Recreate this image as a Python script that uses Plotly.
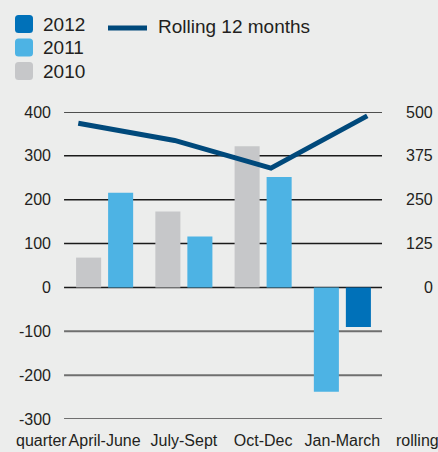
import plotly.graph_objects as go

quarters = ["April-June", "July-Sept", "Oct-Dec", "Jan-March"]
values_2010 = [68, 173, 322]
values_2011 = [216, 116, 252, -238]
values_2012 = [-90]
rolling_12m = [468, 419, 340, 489]
left_ticks = [400, 300, 200, 100, 0, -100, -200, -300]
left_tick_labels = ["400", "300", "200", "100", "0", "-100", "-200", "-300"]
right_ticks = [500, 375, 250, 125, 0]

BG = "#ecedec"
TXT = "#231f20"
C2012 = "#0071b9"
C2011 = "#4db3e4"
C2010 = "#c6c7c9"
CLINE = "#00497b"
FONT = "Liberation Sans, Arial, sans-serif"

W = 0.316
OFF_L = -0.36
OFF_R = 0.044

fig = go.Figure()
fig.add_trace(go.Bar(x=quarters[:3], y=values_2010, width=W, offset=OFF_L,
                     marker=dict(color=C2010, line=dict(width=0)), name="2010"))
fig.add_trace(go.Bar(x=quarters, y=values_2011, width=W,
                     offset=[OFF_R, OFF_R, OFF_R, OFF_L],
                     marker=dict(color=C2011, line=dict(width=0)), name="2011"))
fig.add_trace(go.Bar(x=quarters[3:], y=values_2012, width=W, offset=OFF_R,
                     marker=dict(color=C2012, line=dict(width=0)), name="2012"))
fig.add_trace(go.Scatter(x=quarters, y=rolling_12m, mode="lines",
                         line=dict(color=CLINE, width=5),
                         xaxis="x2", yaxis="y2", name="Rolling 12 months"))

shapes = []
for v in left_ticks:
    neg = v < 0
    shapes.append(dict(type="line", xref="paper", yref="y", x0=-0.003, x1=1, y0=v, y1=v,
                       line=dict(color="#6f6f6f" if neg else "#1a1a1a", width=2 if neg else 1.5),
                       layer="below"))

# manual legend
def rrect(x0, y0, s=18, r=3.5):
    x1, y1 = x0 + s, y0 + s
    return (f"M{x0+r},{y0} L{x1-r},{y0} Q{x1},{y0} {x1},{y0+r} L{x1},{y1-r} Q{x1},{y1} {x1-r},{y1} "
            f"L{x0+r},{y1} Q{x0},{y1} {x0},{y1-r} L{x0},{y0+r} Q{x0},{y0} {x0+r},{y0} Z")

PL, PT, PH, PW = 65, 112, 307, 317
def px_x(px):
    return (px - PL) / PW
def px_y(py):
    return (PT + PH - py) / PH

legend_items = [("2012", C2012, 15), ("2011", C2011, 38.5), ("2010", C2010, 62)]
annotations = []
for label, col, top in legend_items:
    shapes.append(dict(type="path", xref="paper", yref="paper", xsizemode="pixel", ysizemode="pixel",
                       xanchor=0, yanchor=1, path=rrect(15 - PL, PT - top - 18),
                       fillcolor=col, line=dict(width=0)))
    annotations.append(dict(text=label, xref="paper", yref="paper", x=px_x(41), y=px_y(top + 9.5),
                            xanchor="left", yanchor="middle", showarrow=False,
                            font=dict(size=19, color=TXT, family=FONT)))
shapes.append(dict(type="line", xref="paper", yref="paper", x0=px_x(108), x1=px_x(147),
                   y0=px_y(28), y1=px_y(28), line=dict(color=CLINE, width=5)))
annotations.append(dict(text="Rolling 12 months", xref="paper", yref="paper", x=px_x(156), y=px_y(26),
                        xanchor="left", yanchor="middle", showarrow=False,
                        font=dict(size=19, color=TXT, family=FONT)))

for v in right_ticks:
    annotations.append(dict(text=str(v), xref="paper", yref="y2", x=px_x(435), y=v,
                            xanchor="right", yanchor="middle", showarrow=False,
                            font=dict(size=16, color=TXT, family=FONT)))
annotations.append(dict(text="quarter", xref="paper", yref="paper", x=px_x(14), y=px_y(440),
                        xanchor="left", yanchor="middle", showarrow=False,
                        font=dict(size=16, color=TXT, family=FONT)))
annotations.append(dict(text="rolling", xref="paper", yref="paper", x=px_x(394), y=px_y(440),
                        xanchor="left", yanchor="middle", showarrow=False,
                        font=dict(size=16, color=TXT, family=FONT)))

fig.update_layout(
    width=438, height=452,
    margin=dict(l=PL, r=438 - PL - PW, t=PT, b=452 - PT - PH),
    paper_bgcolor=BG, plot_bgcolor=BG,
    barmode="overlay", showlegend=False,
    font=dict(family=FONT, size=16, color=TXT),
    xaxis=dict(type="category", categoryorder="array", categoryarray=quarters,
               range=[-0.5, 3.5], showgrid=False, zeroline=False, showline=False,
               automargin=False,
               ticks="", ticklabelstandoff=10, tickfont=dict(size=16, color=TXT)),
    xaxis2=dict(type="category", categoryorder="array", categoryarray=quarters,
                overlaying="x", range=[-0.138, 3.153], visible=False, automargin=False),
    yaxis=dict(range=[-300, 400], tickvals=left_ticks, ticktext=left_tick_labels,
               showgrid=False, zeroline=False, automargin=False,
               showline=False, ticks="", ticklabelstandoff=13, tickfont=dict(size=16, color=TXT)),
    yaxis2=dict(range=[-375, 500], overlaying="y", side="right", showgrid=False,
                zeroline=False, showticklabels=False, ticks="", automargin=False),
    shapes=shapes, annotations=annotations,
)

fig.write_html("out.html", config={"displayModeBar": False},
               post_script="document.body.style.margin='0';document.body.style.overflow='hidden';"
                           "document.body.style.background='" + BG + "';")
